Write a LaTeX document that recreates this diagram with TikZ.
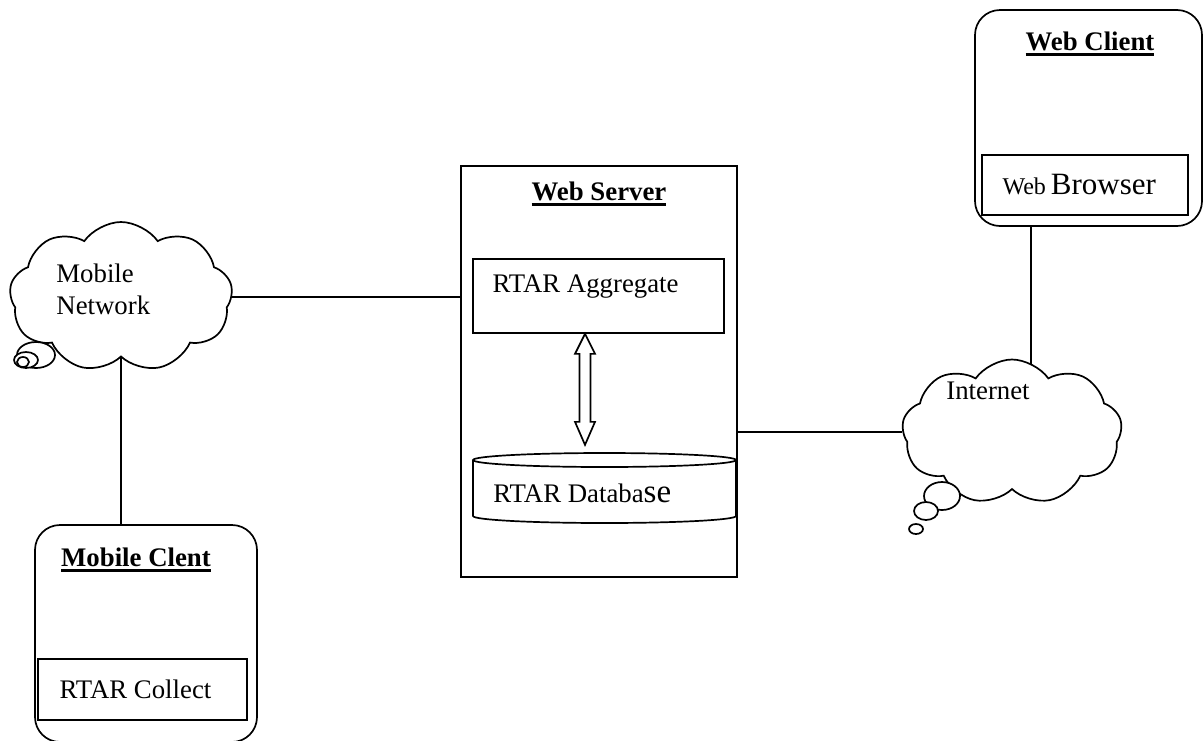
\documentclass[tikz,border=0pt]{standalone}
\usepackage{fontspec}
\setmainfont{Liberation Serif}
\usetikzlibrary{shapes.symbols,calc,backgrounds}

% bold heading with a heavy underline
\newcommand{\headline}[1]{\setbox0\hbox{#1}\leavevmode\rlap{\rule[-2.6pt]{\wd0}{1.3pt}}\box0}

\tikzset{
	box/.style={draw, line width=0.85pt, inner sep=0pt},
	client/.style={draw, line width=0.85pt, rounded corners=12.5pt, inner sep=0pt},
	netcloud/.style={draw, fill=white, line width=0.85pt, cloud, cloud puffs=9, cloud puff arc=110, cloud ignores aspect, inner sep=0pt},
	bubble/.style={draw, fill=white, line width=0.85pt},
	link/.style={line width=0.85pt},
	txt/.style={font=\fontsize{13.4}{16}\selectfont, inner sep=0pt},
	title/.style={font=\fontsize{13.4}{16}\selectfont\bfseries, inner sep=0pt}
}

\begin{document}
\begin{tikzpicture}[x=0.5pt, y=-0.5pt]
	\path[use as bounding box, clip] (0,0) rectangle (1203,740);

	% server side
	\node[box, minimum width=138pt, minimum height=205.5pt] (server) at (599,371.5) {};
	\node[title] (servertitle) at (599,194) {\headline{Web Server}};
	\node[box, minimum width=125.5pt, minimum height=37pt] (agg) at (598.5,296) {};
	\node[txt, anchor=west] (aggtext) at ([xshift=10pt, yshift=4.5pt]agg.west) {RTAR Aggregate};

	% database drum
	\draw[link] (473,460) -- (473,516) arc[start angle=180, end angle=0, x radius=131.5, y radius=7] -- (736,460);
	\draw[link] (604.5,460) ellipse[x radius=131.5, y radius=7];
	\node[txt, anchor=west] (dbtext) at (493,493) {RTAR Databa{\fontsize{16.5}{16}\selectfont se}};

	% hollow double arrow
	\draw[link, line join=miter] ([xshift=-6.75pt]agg.south) -- ++(10,20) -- ++(-4.5,0) -- ++(0,68) -- ++(4.5,0)
		-- ++(-10,23) -- ++(-10,-23) -- ++(4.5,0) -- ++(0,-68) -- ++(-4.5,0) -- cycle;

	% mobile side
	\node[netcloud, minimum width=111.5pt, minimum height=75pt] (mnet) at (121,297) {};
	\node[txt, align=left, anchor=west] (mnetlabel) at (56,289) {Mobile\\Network};
	\draw[bubble] (36,355) ellipse[x radius=19, y radius=13];
	\draw[bubble] (26,360) ellipse[x radius=12, y radius=8];
	\draw[bubble] (23,362) ellipse[x radius=6, y radius=5];

	\node[client, minimum width=111pt, minimum height=108.5pt] (mclient) at (146,633.5) {};
	\node[title] (mclienttitle) at (136,560) {\headline{Mobile Clent}};
	\node[box, minimum width=104.5pt, minimum height=30.5pt] (collect) at (142.5,689.5) {};
	\node[txt, anchor=west] (collecttext) at ([xshift=11pt]collect.west) {RTAR Collect};

	% web side
	\node[netcloud, minimum width=110pt, minimum height=72.5pt] (inet) at (1012,432) {};
	\node[txt] (inetlabel) at (988,391) {Internet};
	\draw[bubble] (942,496) ellipse[x radius=18, y radius=14];
	\draw[bubble] (926,511) ellipse[x radius=12, y radius=9];
	\draw[bubble] (916,529) ellipse[x radius=7, y radius=5];

	\node[client, minimum width=113.5pt, minimum height=108pt] (wclient) at (1088.5,118) {};
	\node[title] (wclienttitle) at (1090,44) {\headline{Web Client}};
	\node[box, minimum width=103pt, minimum height=30pt] (browser) at (1085,185) {};
	\node[inner sep=0pt, anchor=west] (browsertext) at ([xshift=10.5pt]browser.west) {{\fontsize{12}{14}\selectfont Web} {\fontsize{15.5}{18}\selectfont Browser}};

	\coordinate (wcport) at ($(wclient.south west)!0.25!(wclient.south east)$);

	% links
	\begin{pgfonlayer}{background}
		\draw[link] (mnet.east) -- (mnet.east -| server.west);
		\draw[link] (mnet.south) -- (mnet.south |- mclient.north);
		\draw[link] (server.east |- inet.west) -- (inet.west);
		\draw[link] (wcport) -- (wcport |- inet.center);
	\end{pgfonlayer}
\end{tikzpicture}
\end{document}
